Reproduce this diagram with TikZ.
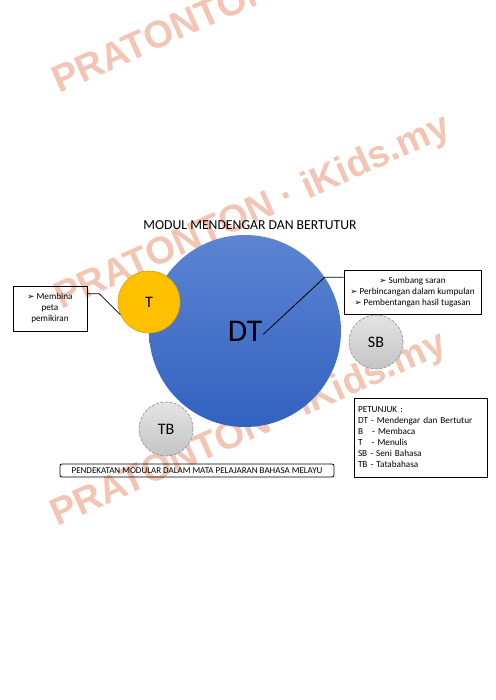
\documentclass[tikz,border=0pt]{standalone}
\usepackage{fontspec}
\setmainfont{Carlito}
\newfontfamily\symfont{DejaVu Sans}
\newfontfamily\wmfont{Liberation Sans}
\usetikzlibrary{positioning,calc}

\definecolor{dtblueA}{RGB}{92,132,210}
\definecolor{dtblueB}{RGB}{50,98,192}
\definecolor{tgold}{RGB}{255,192,0}
\definecolor{tgoldline}{RGB}{214,160,0}
\definecolor{greyA}{RGB}{228,228,228}
\definecolor{greyB}{RGB}{196,196,196}
\definecolor{greyline}{RGB}{160,160,160}
\definecolor{wmred}{RGB}{243,197,180}

\newcommand{\bul}{{\symfont\fontsize{8.5}{8.5}\selectfont ➢}\ }

\begin{document}
\begin{tikzpicture}[x=1pt,y=-1pt,line join=bevel,
  bigcirc/.style={circle,minimum size=192pt,inner sep=0pt,top color=dtblueA,bottom color=dtblueB},
  goldcirc/.style={circle,minimum size=62pt,inner sep=0pt,fill=tgold,draw=tgoldline,line width=0.6pt,font=\fontsize{16}{16}\selectfont},
  greycirc/.style={circle,minimum size=54pt,inner sep=0pt,top color=greyA,bottom color=greyB,draw=greyline,line width=0.8pt,dash pattern=on 3pt off 1.5pt,font=\fontsize{16}{16}\selectfont},
  notebox/.style={draw,line width=0.8pt,inner sep=3pt,align=center,font=\fontsize{9.2}{11}\selectfont},
  conn/.style={line width=0.8pt},
  wmark/.style={anchor=base west,rotate=24,text=wmred,font=\wmfont\bfseries\fontsize{38}{38}\selectfont},
]
\useasboundingbox (0,0) rectangle (495,700);
%% watermark (behind)
\node (wm1) at (56,95) [wmark] {PRATONTON · iKids.my};
\node (wm2) at (58,311) [wmark] {PRATONTON · iKids.my};
\node (wm3) at (54,528) [wmark] {PRATONTON · iKids.my};
%%
\node (title) at (250,225) [font=\fontsize{13.7}{14}\selectfont] {MODUL MENDENGAR DAN BERTUTUR};
\node (dt) at (245,331) [bigcirc] {};
\node (dtl) at (dt.center) [inner sep=1pt,font=\fontsize{31.6}{32}\selectfont] {DT};
\node (t) at (149,302) [goldcirc] {T};
\node (sb) at (376,342) [greycirc] {SB};
\node (tb) at (166,429) [greycirc] {TB};
%%
\node (memb) at (50,308.5) [notebox,minimum width=74pt,minimum height=45pt] {\bul Membina\\peta\\pemikiran};
\node (sumb) at (412.5,292) [notebox,minimum width=137pt,minimum height=44pt]
  {\bul Sumbang saran\\\bul Perbincangan dalam kumpulan\\\bul Pembentangan hasil tugasan};
\node (petunjuk) at (420.5,437.5) [notebox,align=left,text width=125pt,inner sep=4pt,minimum height=79pt]
  {PETUNJUK :\\DT - Mendengar dan Bertutur\\B\ \ \ - Membaca\\T\ \ \ - Menulis\\SB - Seni Bahasa\\TB - Tatabahasa};
\node (pendekatan) at (197,470.5) [notebox,rounded corners=2pt,inner sep=1pt,minimum width=274pt,minimum height=13pt,font=\fontsize{9}{10}\selectfont]
  {PENDEKATAN MODULAR DALAM MATA PELAJARAN BAHASA MELAYU};
%%
\draw [conn] ($(memb.north east)!0.18!(memb.south east)$) -- ++(12,0) -- (t.204);
\draw [conn] (dtl.-10) -- (dt.34) -- (dt.34 -| sumb.west);
%
\end{tikzpicture}
\end{document}
